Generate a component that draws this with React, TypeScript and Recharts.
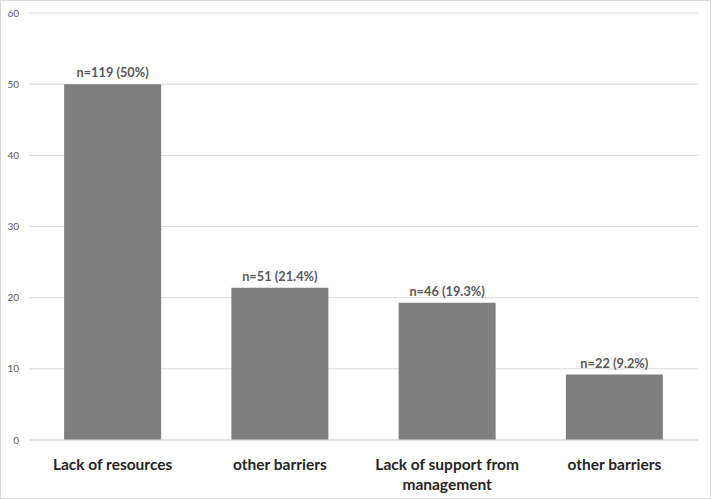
import { BarChart, Bar, XAxis, YAxis, CartesianGrid, LabelList, Text } from 'recharts';

const categories = ['Lack of resources', 'other barriers', 'Lack of support from management', 'other barriers'];
const values = [50, 21.4, 19.3, 9.2];
const barLabels = ['n=119 (50%)', 'n=51 (21.4%)', 'n=46 (19.3%)', 'n=22 (9.2%)'];
const yTicks = [0, 10, 20, 30, 40, 50, 60];

const data = categories.map((name, i) => ({ name, value: values[i], label: barLabels[i] }));

const CategoryTick = ({ x, y, payload }: any) => (
  <Text
    x={x}
    y={y + 11}
    width={175}
    textAnchor="middle"
    verticalAnchor="start"
    fontFamily="Lato, 'Open Sans', sans-serif"
    fontWeight="bold"
    fontSize={15.5}
    fill="#262626"
    lineHeight={20}
  >
    {payload.value}
  </Text>
);

const App = () => {
  return (
    <div
      style={{
        position: 'absolute',
        left: 0,
        top: 0,
        width: 709,
        height: 497,
        border: '1px solid #d9d9d9',
        background: '#fff',
      }}
    >
      <BarChart
        width={709}
        height={497}
        data={data}
        margin={{ top: 12, right: 12, bottom: 0, left: 0 }}
        barCategoryGap="21%"
        style={{ fontFamily: "Lato, 'Open Sans', sans-serif" }}
      >
        <CartesianGrid vertical={false} stroke="#d9d9d9" />
        <XAxis
          dataKey="name"
          axisLine={{ stroke: '#d9d9d9' }}
          tickLine={false}
          interval={0}
          height={58}
          tick={<CategoryTick />}
        />
        <YAxis
          domain={[0, 60]}
          ticks={yTicks}
          width={28}
          axisLine={false}
          tickLine={false}
          tickSize={0}
          tickMargin={10}
          tick={{ fontSize: 10, fill: '#595959' }}
        />
        <Bar dataKey="value" fill="#7f7f7f" isAnimationActive={false}>
          <LabelList
            dataKey="label"
            position="top"
            offset={7}
            style={{ fontSize: 12.8, fontWeight: 'bold', fill: '#595959' }}
          />
        </Bar>
      </BarChart>
    </div>
  );
};

export default App;
